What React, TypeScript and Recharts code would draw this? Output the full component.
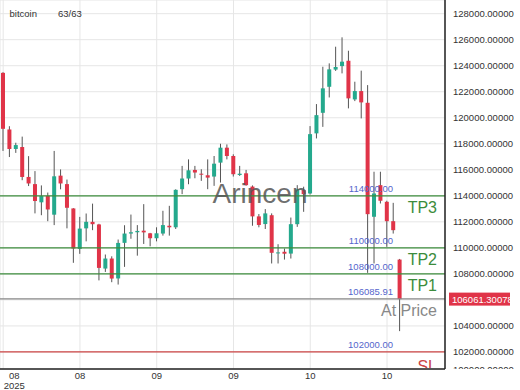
import { ComposedChart, Bar, XAxis, YAxis, CartesianGrid, ReferenceLine } from 'recharts';

// daily candles, bitcoin, Aug - Oct 2025
const opens = [
  123450, 119100, 117600, 117750, 115450, 114900, 113500, 114000, 112550, 115550,
  114900, 113030, 109920, 111500, 112000, 111800, 108410, 109180, 107650, 110385,
  111100, 111200, 111320, 111120, 110740, 111100, 111700, 111580, 114510, 115330,
  115990, 115700, 115580, 115480, 116550, 117700, 117060, 115600, 115730, 114710,
  112420, 111830, 112510, 109600, 109700, 109560, 111820, 114440, 114180, 118800,
  120380, 122380, 123700, 123970, 124380, 121410, 122050, 121150, 112390, 114820,
  113540, 112050, 109100,
];
const highs = [
  123500, 119350, 118080, 118550, 117050, 115900, 114800, 114250, 117450, 116030,
  115250, 113050, 112380, 112640, 113400, 111850, 109490, 109350, 110640, 111740,
  112560, 111750, 113360, 111150, 111580, 112850, 113230, 114500, 116300, 116800,
  116300, 116040, 116800, 117060, 118000, 117950, 117190, 116300, 115990, 114800,
  112600, 112980, 112650, 110280, 109950, 112330, 114820, 114700, 119360, 121050,
  123920, 124180, 125460, 126180, 125150, 122770, 123620, 122510, 115850, 115850,
  113620, 113460, 109150,
];
const lows = [
  117450, 116980, 117300, 115200, 114750, 112650, 112510, 112050, 111750, 114500,
  111500, 108850, 109540, 110500, 111360, 107500, 108150, 107360, 107180, 108540,
  110700, 109400, 110300, 110120, 110500, 110940, 110940, 111450, 114130, 114890,
  115350, 115150, 114510, 114765, 115020, 116800, 115480, 115530, 114770, 111700,
  111580, 111450, 108800, 108800, 109100, 109180, 111615, 112770, 114100, 118410,
  119300, 121560, 123600, 123410, 120720, 121280, 119950, 108080, 108800, 113410,
  110080, 111100, 103600,
];
const closes = [
  119150, 117600, 117900, 115450, 114950, 113600, 113980, 112950, 115500, 114950,
  113080, 109950, 111480, 112000, 111820, 108460, 109180, 107640, 110380, 111100,
  111200, 111300, 111190, 110740, 111120, 111750, 111580, 114460, 115330, 115960,
  115790, 115640, 115400, 116470, 117700, 117060, 115660, 115700, 114820, 112420,
  111760, 112650, 109620, 109650, 109550, 111820, 114510, 114130, 118740, 120200,
  122260, 123720, 123900, 124310, 121490, 122050, 121180, 112590, 114180, 113620,
  112050, 111360, 106061.30078,
];

const monthLabels = ['08', '08', '09', '09', '10', '10'];
const yearLabel = '2025';
const yTicks = [102000, 104000, 106000, 108000, 110000, 112000, 114000, 116000, 118000, 120000, 122000, 124000, 126000, 128000];
const cutTick = 100000; // half hidden label under the x axis

const levelNames = ['TP3', 'TP2', 'TP1', 'At Price', 'SL'];
const levelValues = [114000, 110000, 108000, 106085.91, 102000];
const lastPrice = 106061.30078;

const data = opens.map((open, i) => ({
  i,
  open,
  close: closes[i],
  high: highs[i],
  low: lows[i],
  range: [lows[i], highs[i]],
}));

const W = 520;
const H = 390;
const X_AXIS_H = 21;
const Y_AXIS_W = 75;
const PLOT_BOTTOM = H - X_AXIS_H;

const UP = '#24a98d';
const DOWN = '#e03448';
const FONT = '"Liberation Sans", Arial, sans-serif';

const levelColor: Record<string, string> = {
  TP3: '#3c8c3c',
  TP2: '#3c8c3c',
  TP1: '#3c8c3c',
  'At Price': '#888888',
  SL: '#cc4444',
};

function Candle(props: any) {
  const { x, y, width, height, payload } = props;
  const { open, close, high, low } = payload;
  const top = Math.min(y, y + height);
  const h = Math.abs(height);
  const py = (v: number) => top + ((high - v) / (high - low)) * h;
  const cx = x + width / 2;
  const bodyTop = py(Math.max(open, close));
  const bodyBot = py(Math.min(open, close));
  return (
    <g>
      <line x1={cx} x2={cx} y1={top} y2={top + h} stroke="#555" strokeWidth={1} />
      <rect
        x={cx - 2}
        y={bodyTop}
        width={4}
        height={Math.max(1, bodyBot - bodyTop)}
        fill={close >= open ? UP : DOWN}
      />
    </g>
  );
}

function MonthTick(props: any) {
  const { x, y, payload } = props;
  const idx = Math.round(payload.value / 12);
  const first = payload.value === 0;
  const tx = first ? x + 11 : x;
  return (
    <g>
      <text x={tx} y={y + 9.5} textAnchor="middle" fontSize={9.5} fill="#333">
        {monthLabels[idx]}
      </text>
      {first && (
        <text x={tx} y={y + 19.8} textAnchor="middle" fontSize={9.5} fill="#333">
          {yearLabel}
        </text>
      )}
    </g>
  );
}

// price labels; the one under the last-price badge is hidden like in the original
function PriceTick(props: any) {
  const { x, y, payload, index } = props;
  const label =
    Math.abs(payload.value - lastPrice) < 1000 ? null : (
      <text x={x} y={y + 3.4} fontSize={9.5} fill="#333">
        {payload.value.toFixed(5)}
      </text>
    );
  return (
    <g>
      {label}
      {index === 0 && (
        <g>
          <defs>
            <clipPath id="cut-tick">
              <rect x={x - 4} y={0} width={Y_AXIS_W} height={PLOT_BOTTOM} />
            </clipPath>
          </defs>
          <text x={x} y={PLOT_BOTTOM + 4} fontSize={9.5} fill="#333" clipPath="url(#cut-tick)">
            {cutTick.toFixed(5)}
          </text>
        </g>
      )}
    </g>
  );
}

function LevelLabel(props: any) {
  const { viewBox, name, value } = props;
  const { x, y, width } = viewBox;
  const right = x + width - 8;
  const clipId = 'clip-' + name.replace(' ', '');
  const dy = name === 'SL' ? 20 : 17;
  return (
    <g>
      <defs>
        <clipPath id={clipId}>
          <rect x={x} y={0} width={width} height={PLOT_BOTTOM - 1} />
        </clipPath>
      </defs>
      <text x={x + width - 52} y={y - 3.5} fill="#5566cc" fontSize={9.5} textAnchor="end">
        {value.toFixed(2)}
      </text>
      <text x={right} y={y + dy} fill={levelColor[name]} fontSize={16} textAnchor="end" clipPath={`url(#${clipId})`}>
        {name}
      </text>
    </g>
  );
}

function PriceBadge(props: any) {
  const { viewBox, value } = props;
  const { x, y, width } = viewBox;
  const left = x + width + 4;
  return (
    <g>
      <rect x={left} y={y - 6.5} width={61} height={13} fill={DOWN} />
      <text x={left + 3} y={y + 3.4} fill="#fff" fontSize={9.5}>
        {value.toFixed(5)}
      </text>
    </g>
  );
}

export default function App() {
  return (
    <div style={{ position: 'absolute', left: 0, top: 0, width: W, height: H, fontFamily: FONT }}>
      <ComposedChart width={W} height={H} data={data} margin={{ top: 0, right: 0, bottom: 0, left: 0 }}>
        <CartesianGrid stroke="#e6e6e6" />
        <XAxis
          dataKey="i"
          type="category"
          interval={11}
          height={X_AXIS_H}
          padding={{ left: 0, right: 42 }}
          tickSize={0}
          tickMargin={0}
          tick={<MonthTick />}
          axisLine={{ stroke: '#222', strokeWidth: 1.5 }}
        />
        <YAxis
          orientation="right"
          width={Y_AXIS_W}
          domain={[100690, 129050]}
          allowDataOverflow
          ticks={yTicks}
          tickLine={false}
          tick={<PriceTick />}
          axisLine={{ stroke: '#222', strokeWidth: 1.5 }}
        />
        <Bar dataKey="range" barSize={4} shape={<Candle />} isAnimationActive={false} />
        {levelNames.map((name, k) => (
          <ReferenceLine
            key={name}
            y={levelValues[k]}
            stroke={levelColor[name]}
            strokeWidth={1.2}
            label={<LevelLabel name={name} value={levelValues[k]} />}
          />
        ))}
        <ReferenceLine y={lastPrice} stroke="none" label={<PriceBadge value={lastPrice} />} />
      </ComposedChart>
      <svg
        width={W}
        height={H}
        style={{ position: 'absolute', left: 0, top: 0, pointerEvents: 'none', fontFamily: FONT }}
      >
        <text x={9.5} y={16.5} fontSize={9.5} fill="#333">bitcoin</text>
        <text x={58} y={16.5} fontSize={9.5} fill="#333">63/63</text>
        <text x={260} y={203} fontSize={28} fill="#555" fillOpacity={0.85} textAnchor="middle">Arincen</text>
      </svg>
    </div>
  );
}
